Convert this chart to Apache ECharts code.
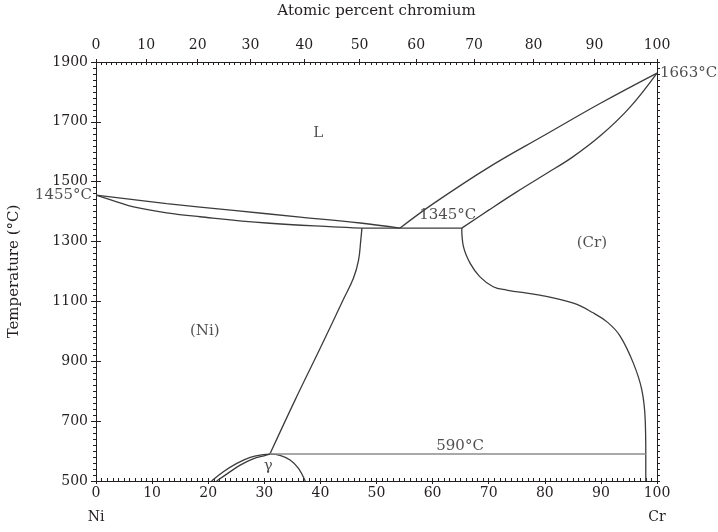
<!DOCTYPE html>
<html>
<head>
<meta charset="utf-8">
<title>Ni-Cr phase diagram</title>
<script src="https://cdn.jsdelivr.net/npm/echarts@6/dist/echarts.min.js"></script>
<style>
  html, body { margin: 0; padding: 0; background: #fff; }
  #chart { width: 718px; height: 532px; }
</style>
</head>
<body>
<div id="chart"></div>
<script>
// tick labels
const weightTicks = [0, 10, 20, 30, 40, 50, 60, 70, 80, 90, 100]
const atomicTicks = [0, 10, 20, 30, 40, 50, 60, 70, 80, 90, 100]
const tempTicks = [500, 700, 900, 1100, 1300, 1500, 1700, 1900]

// phase boundaries, [wt% Cr, temperature]
const liquidusNi = [[0, 1455], [12.6, 1427], [24.5, 1404], [36.4, 1382], [47.1, 1362], [54.2, 1345]]
const solidusNi = [[0, 1455], [3.7, 1433], [6.7, 1416], [12.6, 1396], [18.5, 1383], [30.4, 1362], [42.3, 1349], [47.4, 1345]]
const eutectic = [[47.4, 1345], [65.2, 1345]]
const liquidusCr = [[54.2, 1345], [60, 1425], [70, 1548], [80, 1656], [90, 1763], [100, 1863]]
const solidusCr = [[65.2, 1345], [70, 1405], [75, 1466], [80, 1524], [85, 1583], [90, 1655], [95, 1745], [100, 1863]]
const solvusNi = [[31.0, 590], [35.5, 771], [40.0, 945], [44.0, 1103], [45.9, 1178], [46.8, 1238], [47.2, 1305], [47.4, 1345]]
const solvusCr = [[65.2, 1345], [65.5, 1283], [66.7, 1227], [68.4, 1183], [70.8, 1149], [73.2, 1138], [79.1, 1121], [85.1, 1094], [88.6, 1062], [91.2, 1030], [93.4, 985], [95.8, 893], [97.3, 804], [97.9, 704], [98.0, 590], [98.0, 500]]
const gammaOuter = [[20.6, 500], [22.7, 531], [25.1, 559], [27.5, 579], [29.8, 588], [31.0, 590]]
const gammaInner = [[21.5, 500], [23.3, 523], [25.7, 553], [28.0, 574], [30.1, 585], [31.0, 590]]
const gammaRight = [[31.0, 590], [32.8, 586], [34.6, 570], [36.1, 542], [37.3, 500]]
const eutectoid = [[31.0, 590], [98.0, 590]]

// region / point labels
const labels = [
    { name: 'L', value: [39.6, 1663] },
    { name: '(Ni)', value: [19.4, 1001] },
    { name: '(Cr)', value: [88.4, 1295] },
    { name: 'γ', value: [30.7, 550] },
    { name: '1345°C', value: [62.7, 1389] },
    { name: '590°C', value: [64.9, 617] },
    { name: '1455°C', value: [0, 1455], label: { position: 'left', distance: 4 } },
    { name: '1663°C', value: [100, 1863], label: { position: 'right', distance: 3 } }
]

const font = 'DejaVu Serif'
const ink = '#231f20'
const lineColor = '#3c3c3c'

// atomic <-> weight percent Cr (Cr 52.00, Ni 58.69)
const atToWt = a => a * 52.0 / (a * 52.0 + (100 - a) * 58.69) * 100
const wtToAt = w => (w / 52.0) / (w / 52.0 + (100 - w) / 58.69) * 100

const atomicMinor = []
for (let a = 0; a <= 100; a++) atomicMinor.push(atToWt(a))

const chart = echarts.init(document.getElementById('chart'))

function boundary(data, smooth, style) {
    return {
        type: 'line',
        data: data,
        smooth: smooth,
        showSymbol: false,
        symbol: 'none',
        silent: true,
        lineStyle: style || { color: lineColor, width: 1.3 }
    }
}

const hidden = { show: false }

chart.setOption({
    animation: false,
    backgroundColor: '#fff',
    grid: { left: 96, right: 61, top: 62, bottom: 51, outerBoundsMode: 'none' },
    xAxis: [
        {
            type: 'value',
            position: 'bottom',
            min: 0,
            max: 100,
            interval: 1,
            name: 'Weight percent chromium',
            nameLocation: 'middle',
            nameGap: 40,
            nameTextStyle: { fontFamily: font, fontSize: 15, color: ink },
            axisLine: { show: true, onZero: false, lineStyle: { color: ink, width: 1 } },
            axisTick: { show: true, inside: true, length: 3, lineStyle: { color: ink } },
            axisLabel: {
                customValues: weightTicks,
                margin: 0,
                lineHeight: 24,
                fontFamily: font,
                fontSize: 14,
                color: ink,
                formatter: v => v === 0 ? '0\nNi' : v === 100 ? '100\nCr' : String(v)
            },
            splitLine: hidden
        },
        {
            type: 'value',
            position: 'bottom',
            min: 0,
            max: 100,
            interval: 10,
            axisLine: hidden,
            axisTick: { show: true, inside: false, length: 3, lineStyle: { color: ink } },
            axisLabel: hidden,
            splitLine: hidden
        },
        {
            type: 'value',
            position: 'top',
            min: 0,
            max: 100,
            name: 'Atomic percent chromium',
            nameLocation: 'middle',
            nameGap: 43,
            nameTextStyle: { fontFamily: font, fontSize: 15, color: ink },
            axisLine: { show: true, onZero: false, lineStyle: { color: ink, width: 1 } },
            axisTick: { show: true, inside: true, length: 3, customValues: atomicMinor, lineStyle: { color: ink } },
            axisLabel: {
                customValues: atomicTicks.map(atToWt),
                margin: 10,
                fontFamily: font,
                fontSize: 14,
                color: ink,
                formatter: v => String(Math.round(wtToAt(v)))
            },
            splitLine: hidden
        },
        {
            type: 'value',
            position: 'top',
            min: 0,
            max: 100,
            axisLine: hidden,
            axisTick: { show: true, inside: false, length: 3, customValues: atomicTicks.map(atToWt), lineStyle: { color: ink } },
            axisLabel: hidden,
            splitLine: hidden
        }
    ],
    yAxis: [
        {
            type: 'value',
            position: 'left',
            min: 500,
            max: 1900,
            interval: 20,
            name: 'Temperature (°C)',
            nameLocation: 'middle',
            nameGap: 74,
            nameRotate: 90,
            nameTextStyle: { fontFamily: font, fontSize: 15, color: ink },
            axisLine: { show: true, onZero: false, lineStyle: { color: ink, width: 1 } },
            axisTick: { show: true, inside: false, length: 3, lineStyle: { color: ink } },
            axisLabel: {
                customValues: tempTicks,
                margin: 8,
                fontFamily: font,
                fontSize: 14,
                color: ink,
                formatter: v => String(v)
            },
            splitLine: hidden
        },
        {
            type: 'value',
            position: 'left',
            min: 500,
            max: 1900,
            axisLine: hidden,
            axisTick: { show: true, inside: false, length: 5, customValues: tempTicks, lineStyle: { color: ink } },
            axisLabel: hidden,
            splitLine: hidden
        },
        {
            type: 'value',
            position: 'right',
            min: 500,
            max: 1900,
            interval: 20,
            axisLine: { show: true, onZero: false, lineStyle: { color: ink, width: 1 } },
            axisTick: { show: true, inside: false, length: 3, lineStyle: { color: ink } },
            axisLabel: hidden,
            splitLine: hidden
        },
        {
            type: 'value',
            position: 'right',
            min: 500,
            max: 1900,
            axisLine: hidden,
            axisTick: { show: true, inside: false, length: 5, customValues: tempTicks, lineStyle: { color: ink } },
            axisLabel: hidden,
            splitLine: hidden
        }
    ],
    series: [
        boundary(liquidusNi, 0.4),
        boundary(solidusNi, 0.4),
        boundary(eutectic, false),
        boundary(liquidusCr, 0.4),
        boundary(solidusCr, 0.4),
        boundary(solvusNi, 0.4),
        boundary(solvusCr, 0.4),
        boundary(gammaOuter, 0.4),
        boundary(gammaInner, 0.4),
        boundary(gammaRight, 0.4),
        boundary(eutectoid, false, { color: '#8c8c8c', width: 1.6 }),
        {
            type: 'scatter',
            data: labels,
            symbolSize: 0,
            silent: true,
            label: {
                show: true,
                position: 'inside',
                formatter: '{b}',
                fontFamily: font,
                fontSize: 15,
                color: ink
            }
        }
    ]
})
</script>
</body>
</html>
